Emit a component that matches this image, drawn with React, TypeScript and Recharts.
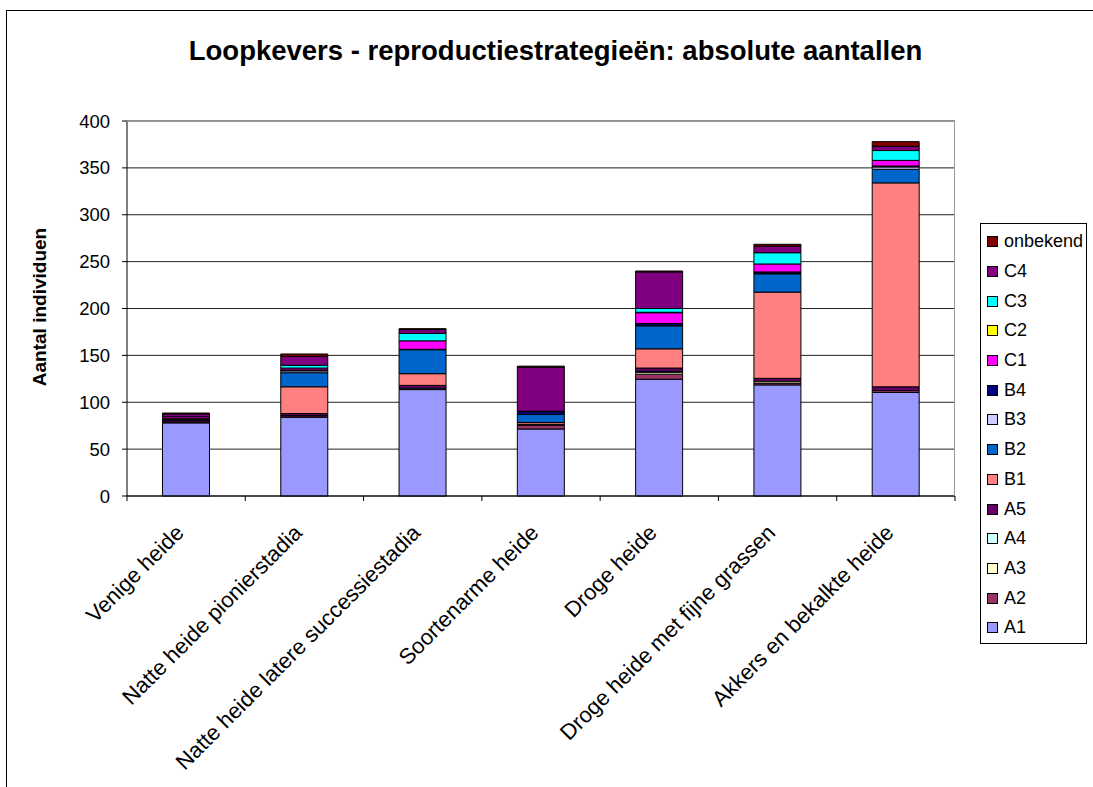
import React from "react";
import { BarChart, Bar, XAxis, YAxis, CartesianGrid, Legend } from "recharts";

const CATEGORIES = [
  "Venige heide",
  "Natte heide pionierstadia",
  "Natte heide latere successiestadia",
  "Soortenarme heide",
  "Droge heide",
  "Droge heide met fijne grassen",
  "Akkers en bekalkte heide",
];

const SERIES = ["A1", "A2", "A3", "A4", "A5", "B1", "B2", "B3", "B4", "C1", "C2", "C3", "C4", "onbekend"];

const COLORS = [
  "#9999FF", "#993366", "#FFFFCC", "#CCFFFF", "#660066",
  "#FF8080", "#0066CC", "#CCCCFF", "#000080", "#FF00FF",
  "#FFFF00", "#00FFFF", "#800080", "#800000",
];

const A1 = [78, 84, 113.5, 71.5, 124.5, 118.5, 110.5];
const A2 = [1, 1.5, 1.5, 4, 5.5, 2, 2];
const A3 = [0, 0, 0, 0, 2, 2, 0];
const A4 = [0, 0.5, 0, 0, 1, 0, 0];
const A5 = [2, 2, 3, 1, 3.5, 3, 4];
const B1 = [0.5, 28.5, 12.5, 2, 20.5, 92, 217.5];
const B2 = [1, 15, 25.5, 8.5, 24.5, 19.5, 14.5];
const B3 = [0, 2, 0, 0, 0.5, 0.5, 2.5];
const B4 = [0, 1, 0.5, 3, 2, 1.5, 1];
const C1 = [2, 2, 9, 0.5, 11.5, 8.5, 6];
const C2 = [0, 0, 0, 0, 0.5, 0, 0];
const C3 = [0, 3, 8, 0, 4, 12, 10.5];
const C4 = [3, 9.5, 4, 47, 39, 7, 4.5];
const ONBEKEND = [1, 2.5, 1, 1, 1, 2, 5];

const VALUES = [A1, A2, A3, A4, A5, B1, B2, B3, B4, C1, C2, C3, C4, ONBEKEND];

const Y_TICKS = [0, 50, 100, 150, 200, 250, 300, 350, 400];

const data = CATEGORIES.map((name, i) => {
  const row: Record<string, string | number> = { name };
  SERIES.forEach((s, k) => {
    row[s] = VALUES[k][i];
  });
  return row;
});

const FONT = "Arial, 'Liberation Sans', sans-serif";
const PLOT_LEFT = 127;
const PLOT_RIGHT = 955;
const PLOT_TOP = 121;
const PLOT_BOTTOM = 496;
const BAND = (PLOT_RIGHT - PLOT_LEFT) / CATEGORIES.length;

const CategoryTick = (props: any) => {
  const { x, payload, index } = props;
  return (
    <g>
      <line x1={x - BAND / 2} y1={PLOT_BOTTOM} x2={x - BAND / 2} y2={PLOT_BOTTOM + 5} stroke="#000" />
      {index === CATEGORIES.length - 1 && (
        <line x1={x + BAND / 2} y1={PLOT_BOTTOM} x2={x + BAND / 2} y2={PLOT_BOTTOM + 5} stroke="#000" />
      )}
      <text
        transform={`translate(${x - 1},${PLOT_BOTTOM + 38}) rotate(-45)`}
        textAnchor="end"
        fontSize={22}
        fontFamily={FONT}
        fill="#000"
      >
        {payload.value}
      </text>
    </g>
  );
};

const LegendBox = () => {
  const items = SERIES.map((s, k) => ({ name: s, color: COLORS[k] })).reverse();
  return (
    <div
      style={{
        width: 105,
        height: 416,
        border: "1px solid #000",
        background: "#fff",
        paddingTop: 3,
        boxSizing: "content-box",
        fontFamily: FONT,
        fontSize: 18,
        color: "#000",
      }}
    >
      {items.map((it) => (
        <div key={it.name} style={{ height: 29.7, display: "flex", alignItems: "center" }}>
          <span
            style={{
              display: "inline-block",
              width: 9,
              height: 9,
              marginLeft: 6,
              marginRight: 6,
              background: it.color,
              border: "1px solid #000",
            }}
          />
          <span>{it.name}</span>
        </div>
      ))}
    </div>
  );
};

export default function App() {
  return (
    <div style={{ position: "absolute", left: 0, top: 0, width: 1093, height: 787, background: "#fff" }}>
      <div
        style={{
          position: "absolute",
          left: 6,
          top: 10,
          width: 1087,
          height: 777,
          borderLeft: "1px solid #000",
          borderTop: "1px solid #000",
          boxSizing: "border-box",
        }}
      />
      <div
        style={{
          position: "absolute",
          left: 0,
          width: 1111,
          top: 37,
          textAlign: "center",
          fontFamily: FONT,
          fontWeight: "bold",
          fontSize: 27.5,
          lineHeight: "27.5px",
          color: "#000",
          whiteSpace: "nowrap",
        }}
      >
        Loopkevers - reproductiestrategieën: absolute aantallen
      </div>
      <div
        style={{
          position: "absolute",
          left: 40,
          top: 307,
          transform: "translate(-50%, -50%) rotate(-90deg)",
          whiteSpace: "nowrap",
          fontFamily: FONT,
          fontWeight: "bold",
          fontSize: 19,
          color: "#000",
        }}
      >
        Aantal individuen
      </div>
      <div style={{ position: "absolute", left: 0, top: 0 }}>
        <BarChart
          width={1093}
          height={787}
          data={data}
          margin={{ top: PLOT_TOP, right: 1093 - PLOT_RIGHT, left: PLOT_LEFT - 60, bottom: 787 - PLOT_BOTTOM - 200 }}
          barCategoryGap="30%"
        >
          <CartesianGrid vertical={false} stroke="#222" />
          <XAxis
            dataKey="name"
            height={200}
            interval={0}
            tickLine={false}
            axisLine={{ stroke: "#000" }}
            tick={<CategoryTick />}
          />
          <YAxis
            width={60}
            domain={[0, 400]}
            ticks={Y_TICKS}
            interval={0}
            tickSize={5}
            tickMargin={12}
            axisLine={{ stroke: "#000" }}
            tickLine={{ stroke: "#000" }}
            tick={{ fontSize: 18.5, fontFamily: FONT, fill: "#000" }}
          />
          <Legend
            content={<LegendBox />}
            wrapperStyle={{ position: "absolute", left: 980, top: 223, width: 0, height: 0, overflow: "visible" }}
          />
          {SERIES.map((s, k) => (
            <Bar
              key={s}
              dataKey={s}
              stackId="a"
              fill={COLORS[k]}
              stroke="#000"
              strokeWidth={1}
              isAnimationActive={false}
            />
          ))}
        </BarChart>
      </div>
      <div
        style={{
          position: "absolute",
          left: PLOT_LEFT,
          top: PLOT_TOP,
          width: PLOT_RIGHT - PLOT_LEFT,
          height: PLOT_BOTTOM - PLOT_TOP,
          borderTop: "1px solid #999",
          borderRight: "1px solid #999",
          boxSizing: "border-box",
          pointerEvents: "none",
        }}
      />
    </div>
  );
}
